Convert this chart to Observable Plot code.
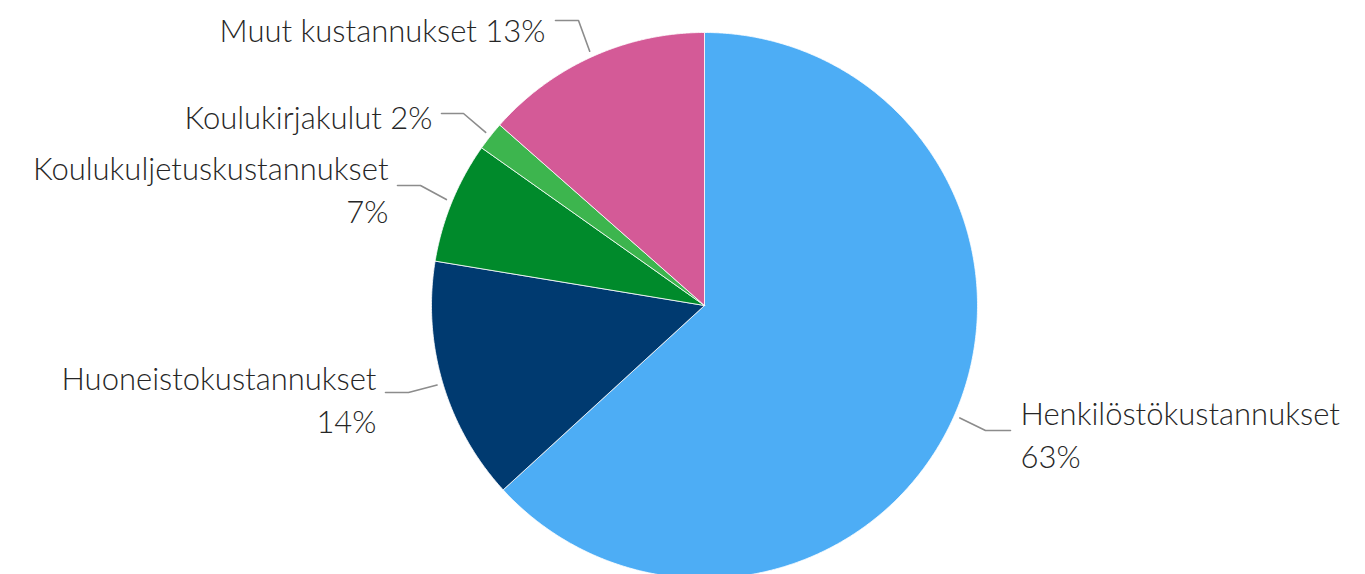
<!DOCTYPE html>
<html>
<head>
<meta charset="utf-8">
<script src="https://cdn.jsdelivr.net/npm/d3@7"></script>
<script src="https://cdn.jsdelivr.net/npm/@observablehq/plot@0.6"></script>
<style>
  html, body { margin: 0; padding: 0; background: #fff; }
  #chart { width: 1365px; height: 574px; overflow: hidden; }
</style>
</head>
<body>
<div id="chart"></div>
<script>
// ---- data ----
const categories = ["Henkilöstökustannukset", "Huoneistokustannukset", "Koulukuljetuskustannukset", "Koulukirjakulut", "Muut kustannukset"];
const shares = [63.2, 14.4, 7.2, 1.7, 13.5];
const shareLabels = ["63%", "14%", "7%", "2%", "13%"];
const colors = ["#4DADF5", "#003A70", "#008A2B", "#3DB54E", "#D45A97"];

// ---- layout (pixels) ----
const W = 1365, H = 574;
const cx = 704, cy = 305, R = 273;
const labelLayout = [
  {x: 1020, y: 394, anchor: "start", twoLine: true,  elbow: [985, 430], end: [1010, 430]},
  {x: 376,  y: 359, anchor: "end",   twoLine: true,  elbow: [408, 392], end: [385, 392]},
  {x: 388,  y: 149, anchor: "end",   twoLine: true,  elbow: [420, 185], end: [397, 185]},
  {x: 432,  y: 98,  anchor: "end",   twoLine: false, elbow: [463, 113], end: [441, 113]},
  {x: 545,  y: 11,  anchor: "end",   twoLine: false, elbow: [578, 20],  end: [555, 20]}
];

const table = categories.map((c, i) => ({cat: c, value: shares[i], label: shareLabels[i]}));
const pie = d3.pie().sort(null).value(d => d.value)(table);

// slice polygons
const slicePts = [];
pie.forEach(p => {
  const n = Math.max(4, Math.ceil((p.endAngle - p.startAngle) * 180));
  slicePts.push({cat: p.data.cat, x: cx, y: cy});
  for (let k = 0; k <= n; k++) {
    const a = p.startAngle + (p.endAngle - p.startAngle) * k / n;
    slicePts.push({cat: p.data.cat, x: cx + R * Math.sin(a), y: cy - R * Math.cos(a)});
  }
  slicePts.push({cat: p.data.cat, x: cx, y: cy});
});

// leader lines
const leaderPts = [];
pie.forEach((p, i) => {
  const a = (p.startAngle + p.endAngle) / 2;
  const L = labelLayout[i];
  leaderPts.push({cat: p.data.cat, x: cx + (R + 6) * Math.sin(a), y: cy - (R + 6) * Math.cos(a)});
  leaderPts.push({cat: p.data.cat, x: L.elbow[0], y: L.elbow[1]});
  leaderPts.push({cat: p.data.cat, x: L.end[0], y: L.end[1]});
});

const labels = pie.map((p, i) => {
  const L = labelLayout[i];
  return {
    x: L.x, y: L.y, anchor: L.anchor,
    text: L.twoLine ? p.data.cat + "\n" + p.data.label : p.data.cat + " " + p.data.label
  };
});

const font = "Lato, 'Open Sans', sans-serif";
const chart = Plot.plot({
  width: W, height: H,
  margin: 0,
  x: {domain: [0, W], range: [0, W], axis: null},
  y: {domain: [0, H], range: [0, H], axis: null},
  color: {domain: categories, range: colors},
  style: {fontFamily: font, background: "#fff"},
  marks: [
    Plot.line(slicePts, {x: "x", y: "y", z: "cat", fill: "cat", stroke: "#fff", strokeWidth: 0.8, curve: "linear-closed"}),
    Plot.line(leaderPts, {x: "x", y: "y", z: "cat", stroke: "#8c8c8c", strokeWidth: 1.6}),
    ...["start", "end"].map(anc => Plot.text(labels.filter(d => d.anchor === anc), {
      x: "x", y: "y", text: "text", textAnchor: anc, lineAnchor: "top",
      fontSize: 31, fontWeight: 300, lineHeight: 1.38, fill: "#262626"
    }))
  ]
});
document.getElementById("chart").appendChild(chart);
</script>
</body>
</html>
